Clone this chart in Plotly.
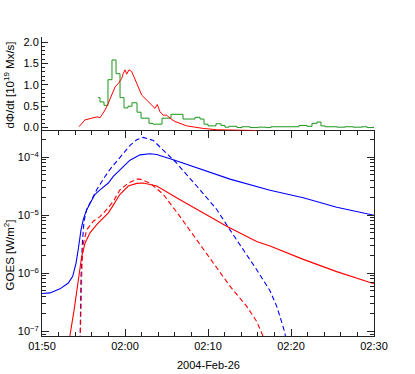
import pandas as pd
import plotly.graph_objects as go

BASE = pd.Timestamp("2004-02-26 01:50:00")

# ---- top panel: dPhi/dt [1e19 Mx/s] ----
green_min = [6.75, 6.99, 7.47, 7.95, 8.43, 8.92, 9.40, 9.88, 10.36, 10.84, 11.45, 11.93,
             12.89, 13.37, 14.46, 15.54, 16.99, 18.43, 19.04, 19.52, 20.0, 20.96, 21.57,
             22.05, 22.53, 23.49, 24.10, 25.06, 26.02, 26.99, 27.59, 29.04, 30.96, 31.93,
             32.53, 33.13, 33.61, 34.10, 35.54, 36.51, 37.47, 38.55, 39.16, 40.0]
green_val = [0.70, 0.60, 0.52, 1.12, 1.58, 1.26, 0.70, 0.46, 0.50, 0.58, 0.36, 0.22,
             0.10, 0.08, 0.22, 0.31, 0.20, 0.24, 0.20, 0.08, 0.04, 0.09, 0.05,
             0.01, 0.03, 0.0, 0.02, 0.0, 0.01, 0.0, 0.02, 0.02, 0.05, 0.03,
             0.10, 0.13, 0.04, 0.02, 0.01, 0.02, 0.01, 0.02, 0.0, 0.02]

red_min = [4.46, 5.18, 5.99, 6.66, 6.99, 7.59, 7.99, 8.40, 8.80, 9.19, 9.60, 9.80, 10.0,
           10.20, 10.48, 10.81, 11.20, 11.60, 12.01, 12.61, 13.22, 13.61, 13.89, 14.22,
           14.61, 15.02, 15.42, 16.02, 16.63, 17.43, 18.43, 19.43, 21.05, 23.25, 26.02]
red_val = [0.02, 0.18, 0.22, 0.25, 0.23, 0.41, 0.57, 0.76, 0.95, 1.03, 1.15, 1.27, 1.35,
           1.25, 1.35, 1.31, 1.11, 0.95, 0.76, 0.64, 0.53, 0.45, 0.54, 0.37,
           0.29, 0.29, 0.22, 0.14, 0.10, 0.04, 0.01, -0.02, -0.05, -0.06, -0.07]

# ---- bottom panel: GOES [W/m^2] ----
blue_lo_min = [0.0, 0.96, 2.17, 3.17, 3.70, 4.10, 4.37, 4.70, 4.98, 5.30, 5.78, 6.39, 6.99,
               7.59, 7.99, 8.59, 9.19, 9.80, 10.60, 11.81, 13.01, 13.82, 15.82, 18.64,
               22.65, 27.47, 31.48, 35.51, 40.0]
blue_lo_val = [4.5e-7, 4.6e-7, 5.4e-7, 6.8e-7, 8.9e-7, 1.5e-6, 2.6e-6, 5.6e-6, 8.5e-6,
               1.17e-5, 1.6e-5, 2.3e-5, 2.75e-5, 3.2e-5, 3.6e-5, 4.7e-5, 5.8e-5, 6.9e-5,
               8.9e-5, 1.1e-4, 1.15e-4, 1.12e-4, 9.1e-5, 6.6e-5, 4.2e-5, 2.7e-5, 2.0e-5,
               1.38e-5, 1.0e-5]

blue_hi_min = [4.58, 4.61, 4.70, 4.86, 5.06, 5.39, 5.99, 6.59, 7.39, 8.19, 9.0, 10.0, 10.60,
               11.41, 12.20, 13.41, 14.61, 16.23, 18.64, 21.05, 22.65, 24.25, 25.87,
               27.47, 28.28, 28.67, 29.28, 29.5]
blue_hi_val = [5e-8, 1.07e-7, 8.9e-7, 3.3e-6, 7.9e-6, 1.26e-5, 1.86e-5, 2.75e-5, 4.2e-5,
               6.2e-5, 8.5e-5, 1.26e-4, 1.6e-4, 2.0e-4, 2.2e-4, 1.95e-4, 1.35e-4, 7.9e-5,
               3.2e-5, 1.26e-5, 5.6e-6, 2.6e-6, 1.15e-6, 5.0e-7, 2.7e-7, 1.8e-7, 9.3e-8, 5e-8]

red_lo_min = [3.2, 3.37, 3.86, 4.37, 4.78, 5.18, 5.78, 6.59, 7.39, 7.99, 8.59, 9.40, 10.40,
              11.41, 12.20, 13.82, 16.63, 19.43, 22.25, 25.87, 27.47, 31.48, 35.51, 40.0]
red_lo_val = [5e-8, 8.5e-8, 2.3e-7, 6.8e-7, 1.95e-6, 3.3e-6, 5.0e-6, 6.9e-6, 9.1e-6, 1.1e-5,
              1.5e-5, 2.3e-5, 3.2e-5, 3.55e-5, 3.6e-5, 3.2e-5, 1.86e-5, 1.1e-5, 6.5e-6,
              3.55e-6, 2.95e-6, 1.74e-6, 1.07e-6, 6.6e-7]

red_hi_min = [4.58, 4.70, 4.82, 4.98, 5.39, 6.18, 6.99, 7.80, 8.59, 9.40, 10.40, 11.41,
              11.81, 13.01, 14.61, 16.63, 18.64, 20.64, 22.65, 24.66, 25.87, 26.66, 26.87]
red_hi_val = [5e-8, 4.0e-7, 1.5e-6, 3.3e-6, 5.6e-6, 7.9e-6, 9.5e-6, 1.26e-5, 1.74e-5,
              2.75e-5, 3.6e-5, 4.2e-5, 4.2e-5, 3.6e-5, 2.3e-5, 9.5e-6, 3.8e-6, 1.5e-6,
              6.0e-7, 2.7e-7, 1.48e-7, 8.1e-8, 5e-8]

x_tick_min = [0, 10, 20, 30, 40]
x_tick_text = ["01:50", "02:00", "02:10", "02:20", "02:30"]
goes_tick_vals = [1e-7, 1e-6, 1e-5, 1e-4]
goes_tick_text = ["10<sup>−7</sup>", "10<sup>−6</sup>", "10<sup>−5</sup>", "10<sup>−4</sup>"]
flux_tick_vals = [0.0, 0.5, 1.0, 1.5, 2.0]


def tm(mins):
    return [BASE + pd.Timedelta(minutes=m) for m in mins]


BLUE = "#0000ff"
RED = "#ff0000"
GREEN = "#1c951c"
AX = "#222222"
FONT = "Liberation Sans"
DASH = "5px,3px"

fig = go.Figure()
fig.add_trace(go.Scatter(x=tm(green_min), y=green_val, mode="lines", line=dict(color=GREEN, width=1, shape="hv"),
                         xaxis="x2", yaxis="y2"))
fig.add_trace(go.Scatter(x=tm(red_min), y=red_val, mode="lines", line=dict(color=RED, width=1),
                         xaxis="x2", yaxis="y2"))
fig.add_trace(go.Scatter(x=tm(blue_lo_min), y=blue_lo_val, mode="lines", line=dict(color=BLUE, width=1.1)))
fig.add_trace(go.Scatter(x=tm(blue_hi_min), y=blue_hi_val, mode="lines", line=dict(color=BLUE, width=1.1, dash=DASH)))
fig.add_trace(go.Scatter(x=tm(red_lo_min), y=red_lo_val, mode="lines", line=dict(color=RED, width=1.1)))
fig.add_trace(go.Scatter(x=tm(red_hi_min), y=red_hi_val, mode="lines", line=dict(color=RED, width=1.1, dash=DASH)))

xr = [BASE, BASE + pd.Timedelta(minutes=40)]
minor_x = tm([m for m in range(0, 41, 2) if m % 10 != 0])

goes_minor = []
for e in range(-8, -3):
    for k in range(2, 10):
        goes_minor.append(k * 10.0 ** e)

fig.update_layout(
    width=415, height=374,
    margin=dict(l=42, r=41, t=37, b=38),
    paper_bgcolor="white", plot_bgcolor="white",
    showlegend=False,
    font=dict(family=FONT, size=11, color="black"),
    xaxis=dict(
        domain=[0, 1], anchor="y", range=xr,
        tickmode="array", tickvals=tm(x_tick_min), ticktext=x_tick_text,
        ticks="inside", ticklen=7, tickcolor=AX, tickwidth=1,
        showline=True, linecolor=AX, linewidth=1, mirror="ticks",
        showgrid=False, zeroline=False,
        minor=dict(tickmode="array", tickvals=minor_x, ticks="inside", ticklen=4, tickcolor=AX, showgrid=False),
        tickfont=dict(size=11),
    ),
    xaxis2=dict(
        domain=[0, 1], anchor="y2", range=xr, matches="x",
        showticklabels=False, ticks="", showline=False, showgrid=False, zeroline=False,
    ),
    yaxis=dict(
        domain=[0, 0.687], anchor="x", type="log", range=[-7.08, -3.54],
        tickmode="array", tickvals=goes_tick_vals, ticktext=goes_tick_text,
        ticks="inside", ticklen=7, tickcolor=AX,
        showline=True, linecolor=AX, linewidth=1, mirror="ticks",
        showgrid=False, zeroline=False,
        minor=dict(tickmode="array", tickvals=goes_minor, ticks="inside", ticklen=4, tickcolor=AX, showgrid=False),
        tickfont=dict(size=11),
    ),
    yaxis2=dict(
        domain=[0.687, 1], anchor="x2", range=[-0.07, 2.118],
        tickmode="array", tickvals=flux_tick_vals, tickformat=".1f",
        ticks="inside", ticklen=6, tickcolor=AX,
        showline=True, linecolor=AX, linewidth=1,
        showgrid=False, zeroline=False,
        minor=dict(dtick=0.1, ticks="inside", ticklen=3, tickcolor=AX, showgrid=False),
        tickfont=dict(size=11),
    ),
    annotations=[
        dict(text="GOES [W/m<sup>2</sup>]", textangle=-90, xref="paper", yref="paper",
             x=-0.098, y=0.271, xanchor="center", yanchor="middle", showarrow=False,
             font=dict(size=11.5)),
        dict(text="dΦ/dt [10<sup>19</sup> Mx/s]", textangle=-90, xref="paper", yref="paper",
             x=-0.098, y=0.839, xanchor="center", yanchor="middle", showarrow=False,
             font=dict(size=11.5)),
        dict(text="2004-Feb-26", xref="paper", yref="paper",
             x=0.5, y=-0.097, xanchor="center", yanchor="middle", showarrow=False,
             font=dict(size=11)),
    ],
)

# remove the page's default 8px body margin so the figure sits at the window origin
fig.write_html("out.html", config={"displayModeBar": False},
               post_script="document.body.style.margin='0';")
